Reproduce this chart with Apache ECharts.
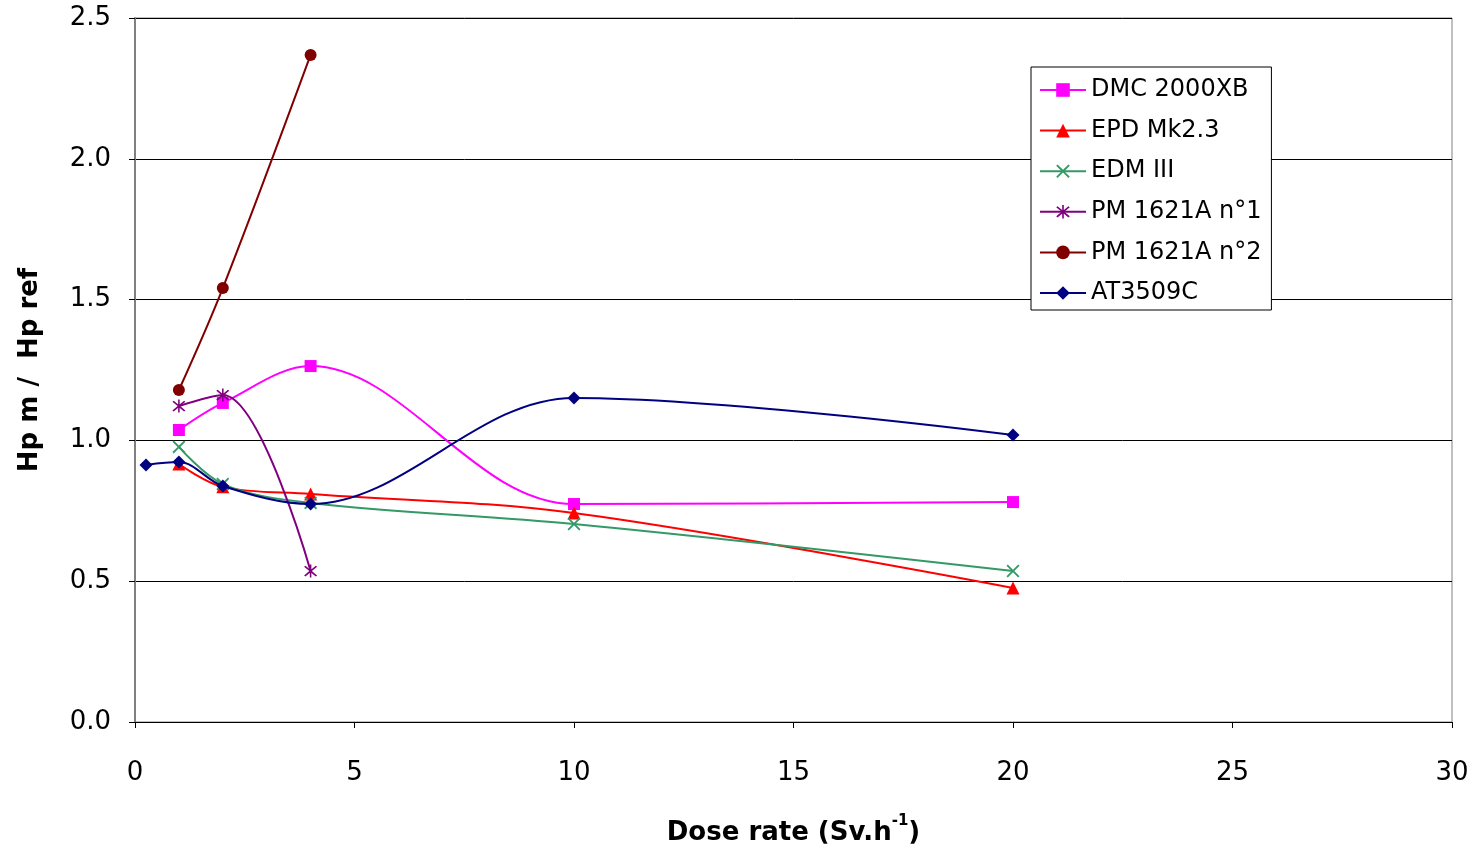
<!DOCTYPE html>
<html>
<head>
<meta charset="utf-8">
<script src="https://cdn.jsdelivr.net/npm/echarts@6/dist/echarts.min.js"></script>
<style>html,body{margin:0;padding:0;background:#fff}#c{width:1478px;height:849px}</style>
</head>
<body>
<div id="c"></div>
<script>
const seriesNames = ['DMC 2000XB', 'EPD Mk2.3', 'EDM III', 'PM 1621A n°1', 'PM 1621A n°2', 'AT3509C'];
const dmcX = [1, 2, 4, 10, 20];
const dmcY = [1.037, 1.133, 1.264, 0.774, 0.781];
const epdX = [1, 2, 4, 10, 20];
const epdY = [0.916, 0.835, 0.810, 0.742, 0.476];
const edmX = [1, 2, 4, 10, 20];
const edmY = [0.977, 0.845, 0.778, 0.703, 0.536];
const pm1X = [1, 2, 4];
const pm1Y = [1.122, 1.161, 0.536];
const pm2X = [1, 2, 4];
const pm2Y = [1.179, 1.541, 2.369];
const atX = [0.25, 1, 2, 4, 10, 20];
const atY = [0.913, 0.923, 0.838, 0.774, 1.151, 1.019];
const xTicks = [0, 5, 10, 15, 20, 25, 30];
const yTicks = [0.0, 0.5, 1.0, 1.5, 2.0, 2.5];

const colors = ['#FF00FF', '#FF0000', '#339966', '#800080', '#800000', '#000080'];
const crossPath = 'path://M0,1 L1,0 L5,4 L9,0 L10,1 L6,5 L10,9 L9,10 L5,6 L1,10 L0,9 L4,5 Z';
const starPath = 'path://M0,1 L1,0 L5,4 L9,0 L10,1 L6,5 L10,9 L9,10 L5,6 L1,10 L0,9 L4,5 Z M4.4,-1 L5.6,-1 L5.6,11 L4.4,11 Z';
const symbols = ['rect', 'triangle', crossPath, starPath, 'circle', 'diamond'];
const symbolSizes = [12, 13, 13, 13, 12, 13];
const xs = [dmcX, epdX, edmX, pm1X, pm2X, atX];
const ys = [dmcY, epdY, edmY, pm1Y, pm2Y, atY];

const FONT = 'DejaVu Sans';
const chart = echarts.init(document.getElementById('c'), null, {renderer: 'canvas'});
const series = seriesNames.map((n, i) => ({
  name: n,
  type: 'line',
  data: xs[i].map((x, j) => [x, ys[i][j]]),
  smooth: 0.35,
  symbol: symbols[i],
  symbolSize: symbolSizes[i],
  showAllSymbol: true,
  lineStyle: {color: colors[i], width: 2},
  itemStyle: {color: colors[i], borderWidth: 0},
  emphasis: {disabled: true},
  z: 2 + i
}));

chart.setOption({
  animation: false,
  color: colors,
  grid: {left: 135, right: 26, top: 18, bottom: 127, show: true, borderColor: '#808080', borderWidth: 1, containLabel: false, outerBoundsMode: 'none'},
  legend: {
    orient: 'vertical',
    left: 1031, top: 67,
    padding: [8, 10, 2, 8],
    itemWidth: 46, itemHeight: 17,
    itemGap: 10.6,
    backgroundColor: '#fff',
    borderColor: '#000', borderWidth: 1,
    textStyle: {fontFamily: FONT, fontSize: 24, color: '#000', lineHeight: 30},
    data: seriesNames
  },
  xAxis: {
    type: 'value', min: 0, max: 30, interval: 5,
    name: '{n|Dose rate (Sv.h}{s|-1}{n|)}',
    nameLocation: 'middle', nameGap: 92,
    nameTextStyle: {
      rich: {
        n: {fontFamily: FONT, fontSize: 26, color: '#000', fontWeight: 'bold', verticalAlign: 'bottom', lineHeight: 32},
        s: {fontFamily: FONT, fontSize: 15, color: '#000', fontWeight: 'bold', verticalAlign: 'top', lineHeight: 32, padding: [0, 0, 14, 0]}
      }
    },
    axisLine: {show: true, onZero: false, lineStyle: {color: '#000', width: 1}},
    axisTick: {show: true, length: 6, lineStyle: {color: '#000'}},
    axisLabel: {fontFamily: FONT, fontSize: 26, color: '#000', margin: 38, formatter: v => String(v)},
    splitLine: {show: false}
  },
  yAxis: {
    type: 'value', min: 0, max: 2.5, interval: 0.5,
    name: 'Hp m /  Hp ref',
    nameLocation: 'middle', nameGap: 92,
    nameTextStyle: {fontFamily: FONT, fontSize: 26, fontWeight: 'bold', color: '#000'},
    axisLine: {show: true, lineStyle: {color: '#808080', width: 2}},
    axisTick: {show: true, length: 6, lineStyle: {color: '#000'}},
    axisLabel: {fontFamily: FONT, fontSize: 26, color: '#000', margin: 24, formatter: v => v.toFixed(1)},
    splitLine: {show: true, lineStyle: {color: '#000', width: 1}}
  },
  series: series
});
</script>
</body>
</html>
